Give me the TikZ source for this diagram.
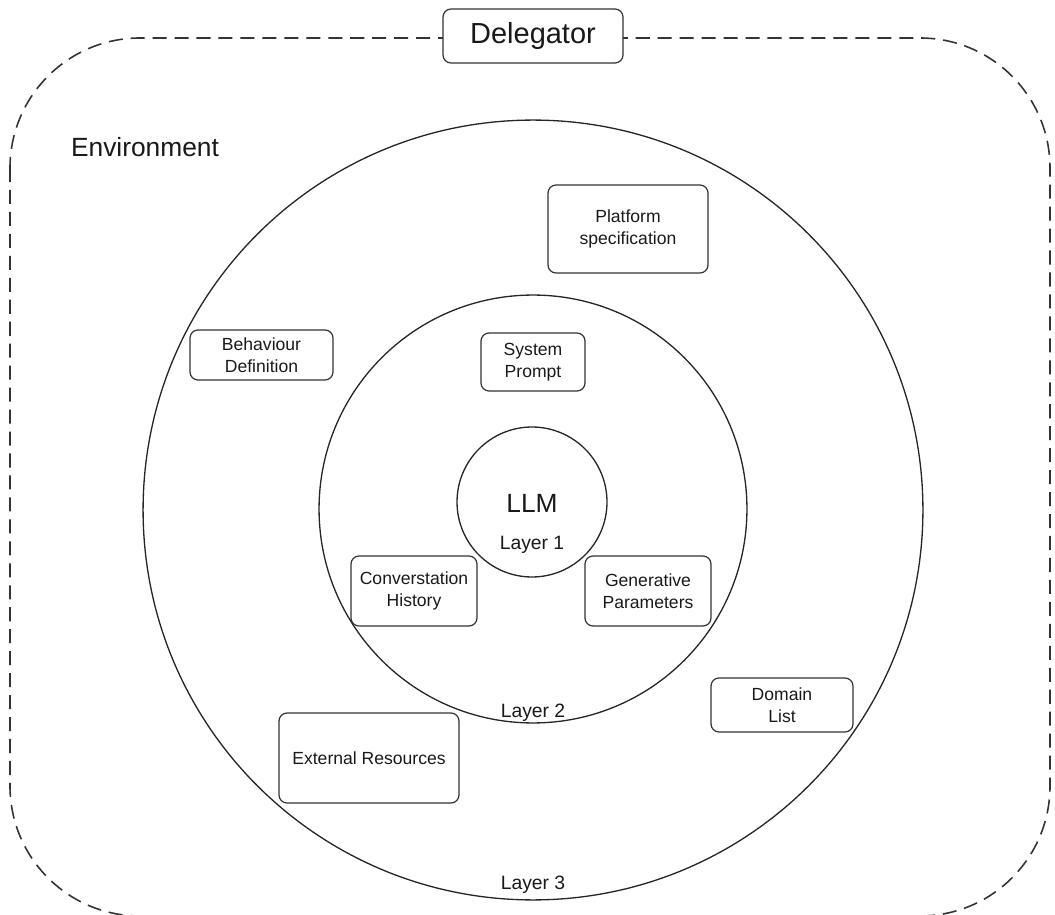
\documentclass[tikz,border=0pt]{standalone}
\usepackage{fontspec}
\setmainfont{Liberation Sans}
\usetikzlibrary{positioning}

\tikzset{
 part/.style={draw=black!80, line width=0.7pt, rounded corners=0.16cm, align=center,
   text=black!90, font=\fontsize{10}{12.5}\selectfont, inner sep=0pt},
 layer/.style={draw=black!85, line width=0.75pt, circle, inner sep=0pt},
 laylab/.style={text=black!90, font=\fontsize{11}{13}\selectfont},
}

\begin{document}
\begin{tikzpicture}[x=0.02cm,y=-0.02cm]
\useasboundingbox (0,0) rectangle (1055,915);
%%%%%delegator frame starts here
\draw[black!80, line width=0.9pt, dash pattern=on 8pt off 4.5pt, rounded corners=2.6cm] (10,38) rectangle (1050,916);
\node[part, fill=white, minimum width=3.6cm, minimum height=1.08cm, font=\fontsize{16.5}{20}\selectfont] (deleg) at (533,36) {Delegator};
\node[text=black!90, font=\fontsize{15}{18}\selectfont] (env) at (145,147) {Environment};
%%%%%delegator frame ends here

%%%%%layers start here
\def\cx{533}
\node[layer, minimum size=15.6cm] (lthree) at (\cx,510) {};
\node[layer, minimum size=8.56cm] (ltwo) at (\cx,509) {};
\node[layer, minimum size=3cm] (lone) at (532,502) {};

\node[laylab] (labthree) at ([yshift=0.32cm]lthree.south) {Layer 3};
\node[laylab] (labtwo) at ([yshift=0.22cm]ltwo.south) {Layer 2};
\node[laylab] (labone) at ([yshift=0.66cm]lone.south) {Layer 1};
\node[text=black!90, font=\fontsize{15}{18}\selectfont] (llm) at (532,503) {LLM};
%%%%%layers end here

%%%%%parts
\foreach \nm/\x/\y/\w/\h/\txt in {
 plat/628/229/3.2/1.76/{Platform\\specification},
 behav/261.5/355/2.86/1.0/{Behaviour\\Definition},
 sysp/533/362/2.08/1.16/{System\\Prompt},
 conv/414/591/2.52/1.4/{Converstation\\History},
 gen/648/591/2.52/1.4/{Generative\\Parameters},
 dom/782/705/2.84/1.08/{Domain\\List},
 ext/369/758/3.6/1.8/{External Resources}}
{
 \node[part, minimum width=\w cm, minimum height=\h cm] (\nm) at (\x,\y) {\txt};
}
\end{tikzpicture}
\end{document}
